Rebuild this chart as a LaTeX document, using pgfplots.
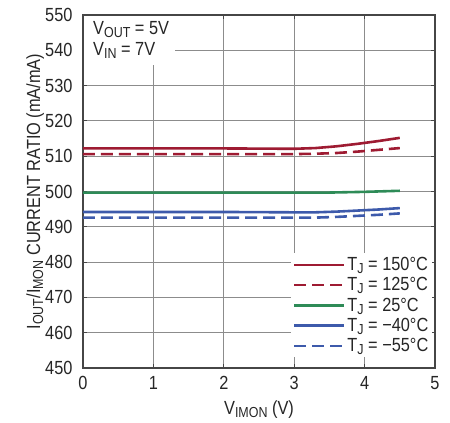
\documentclass[border=0pt]{standalone}
\usepackage{fontspec}
\setmainfont{Liberation Sans}[FakeStretch=0.86]
\usepackage{pgfplots}
\pgfplotsset{compat=1.18}
\definecolor{cred}{RGB}{158,27,50}
\definecolor{cgreen}{RGB}{46,139,87}
\definecolor{cblue}{RGB}{61,90,171}
\definecolor{gridc}{RGB}{140,140,140}
\definecolor{axc}{RGB}{70,70,70}
\newcommand\sub[1]{\raisebox{-0.3ex}{\fontsize{14.5bp}{15bp}\selectfont #1}}
\begin{document}
\begin{tikzpicture}[x=1bp,y=1bp]
\useasboundingbox (-83bp,-55bp) rectangle (367bp,368bp);
\begin{axis}[
  at={(0,0)}, anchor=origin,
  scale only axis, width=352bp, height=353bp,
  xmin=0, xmax=5, ymin=450, ymax=550,
  xtick={0,1,2,3,4,5}, ytick={450,460,...,550},
  grid=major, grid style={gridc, line width=0.8bp},
  axis line style={axc, line width=1.4bp},
  tick style={axc, line width=0.8bp}, tick align=inside, major tick length=4bp,
  /pgf/number format/assume math mode=true,
  ticklabel style={font=\fontsize{19bp}{20bp}\selectfont, text=black!85},
  yticklabel style={xshift=-7bp},
  xticklabel style={yshift=-5bp},
  xlabel={V\sub{IMON} (V)},
  ylabel={I\sub{OUT}/I\sub{MON} CURRENT RATIO (mA/mA)},
  label style={font=\fontsize{19bp}{20bp}\selectfont, text=black!85},
  xlabel style={at={(axis description cs:0.5,-0.119)}, anchor=center},
  ylabel style={at={(axis description cs:-0.136,0.5)}, anchor=center},
  legend cell align=left,
  legend style={at={(rel axis cs:0.993,0.03)}, anchor=south east, draw=none, fill=white,
    font=\fontsize{19bp}{20bp}\selectfont, text=black!85, row sep=1.5bp, inner xsep=2bp, inner ysep=2bp},
  legend image code/.code={\draw[#1] (0bp,0bp) -- (50bp,0bp);},
  every axis plot/.append style={line width=2.6bp},
]
\addplot[cred] coordinates {(0,512.2) (1,512.2) (2,512.2) (3,512.1) (3.3,512.3) (3.6,512.8) (3.9,513.5) (4.2,514.3) (4.5,515.2)};
\addlegendentry{T\sub{J} = 150°C}
\addplot[cred, dash pattern=on 12bp off 6bp] coordinates {(0,510.6) (1,510.6) (2,510.6) (3,510.6) (3.3,510.7) (3.6,510.9) (3.9,511.3) (4.2,511.8) (4.5,512.3)};
\addlegendentry{T\sub{J} = 125°C}
\addplot[cgreen] coordinates {(0,499.7) (1,499.7) (2,499.7) (3,499.7) (3.5,499.7) (4,499.9) (4.5,500.2)};
\addlegendentry{T\sub{J} = 25°C}
\addplot[cblue] coordinates {(0,494.2) (1,494.2) (2,494.2) (3,494.1) (3.3,494.1) (3.6,494.3) (3.9,494.6) (4.2,494.9) (4.5,495.3)};
\addlegendentry{T\sub{J} = −40°C}
\addplot[cblue, dash pattern=on 12bp off 6bp] coordinates {(0,492.6) (1,492.6) (2,492.6) (3,492.6) (3.3,492.6) (3.6,492.8) (3.9,493.1) (4.2,493.4) (4.5,493.8)};
\addlegendentry{T\sub{J} = −55°C}
\fill[white] ([xshift=1bp,yshift=-1bp]rel axis cs:0,1) rectangle ([xshift=92bp,yshift=-50bp]rel axis cs:0,1);
\node[anchor=north west, align=left, inner sep=0pt, font=\fontsize{19bp}{21bp}\selectfont, text=black!85]
  at ([xshift=10bp,yshift=-6bp]rel axis cs:0,1) {V\sub{OUT} = 5V\\V\sub{IN} = 7V};
\end{axis}
\end{tikzpicture}
\end{document}
